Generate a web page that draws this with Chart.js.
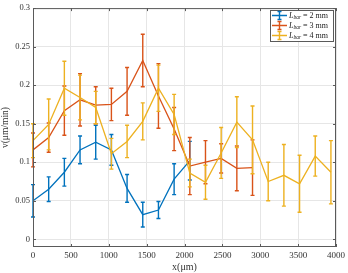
<!DOCTYPE html>
<html>
<head>
<meta charset="utf-8">
<script src="https://cdn.jsdelivr.net/npm/chart.js@4.4.1/dist/chart.umd.min.js"></script>
<style>
  html, body { margin: 0; padding: 0; background: #fff; }
  #wrap { width: 348px; height: 273px; }
</style>
</head>
<body>
<div id="wrap"><canvas id="chart"></canvas></div>
<script>
// positions along the channel (um)
const xValues = [0, 207, 414, 621, 828, 1035, 1242, 1449, 1656, 1863, 2070, 2277, 2484, 2691, 2898, 3105, 3312, 3519, 3726, 3933];

// velocity (um/min) and error bar half-widths
const v2mm   = [0.050, 0.065, 0.087, 0.116, 0.126, 0.116, 0.066, 0.032, 0.038, 0.078, 0.102];
const err2mm = [0.021, 0.016, 0.018, 0.018, 0.022, 0.020, 0.018, 0.016, 0.011, 0.020, 0.025];
const v3mm   = [0.116, 0.132, 0.167, 0.181, 0.174, 0.175, 0.192, 0.232, 0.186, 0.143, 0.095, 0.100, 0.105, 0.092, 0.093];
const err3mm = [0.022, 0.019, 0.032, 0.034, 0.024, 0.021, 0.031, 0.034, 0.042, 0.028, 0.037, 0.028, 0.019, 0.029, 0.036];
const v4mm   = [0.128, 0.149, 0.196, 0.184, 0.171, 0.111, 0.127, 0.153, 0.196, 0.162, 0.086, 0.074, 0.112, 0.152, 0.129, 0.075, 0.083, 0.072, 0.108, 0.087];
const err4mm = [0.022, 0.033, 0.035, 0.029, 0.021, 0.020, 0.021, 0.024, 0.030, 0.026, 0.018, 0.022, 0.033, 0.033, 0.044, 0.025, 0.040, 0.037, 0.026, 0.041];

const seriesLabels = ['2 mm', '3 mm', '4 mm'];
const xTicks = [0, 500, 1000, 1500, 2000, 2500, 3000, 3500, 4000];
const yTicks = [0, 0.05, 0.1, 0.15, 0.2, 0.25, 0.3];

const FONT = '"Liberation Serif", "DejaVu Serif", serif';
const AXIS_COLOR = '#5a5a5a';

const toPoints = vals => vals.map((v, i) => ({ x: xValues[i], y: v }));

const errorBars = {
    id: 'errorBars',
    afterDatasetDraw(chart, args) {
        const ds = chart.data.datasets[args.index];
        if (!ds.errors) return;
        const { ctx, scales: { x, y } } = chart;
        ctx.save();
        ctx.strokeStyle = ds.borderColor;
        ctx.lineWidth = 1.4;
        ds.data.forEach((p, i) => {
            const px = x.getPixelForValue(p.x);
            const top = y.getPixelForValue(p.y + ds.errors[i]);
            const bot = y.getPixelForValue(p.y - ds.errors[i]);
            ctx.beginPath();
            ctx.moveTo(px, top); ctx.lineTo(px, bot);
            ctx.moveTo(px - 2, top); ctx.lineTo(px + 2, top);
            ctx.moveTo(px - 2, bot); ctx.lineTo(px + 2, bot);
            ctx.stroke();
        });
        ctx.restore();
    }
};

// box around the axes with inward ticks, like matlab
const frame = {
    id: 'frame',
    afterDraw(chart) {
        const { ctx, chartArea: a, scales: { x, y } } = chart;
        ctx.save();
        ctx.strokeStyle = AXIS_COLOR;
        ctx.lineWidth = 1;
        ctx.strokeRect(a.left + 0.5, a.top + 0.5, a.right - a.left - 1, a.bottom - a.top - 1);
        ctx.beginPath();
        xTicks.forEach(t => {
            const px = Math.round(x.getPixelForValue(t)) + 0.5;
            ctx.moveTo(px, a.bottom); ctx.lineTo(px, a.bottom - 3);
            ctx.moveTo(px, a.top); ctx.lineTo(px, a.top + 3);
        });
        yTicks.forEach(t => {
            const py = Math.round(y.getPixelForValue(t)) + 0.5;
            ctx.moveTo(a.left, py); ctx.lineTo(a.left + 3, py);
            ctx.moveTo(a.right, py); ctx.lineTo(a.right - 3, py);
        });
        ctx.stroke();
        ctx.restore();
    }
};

const legendBox = {
    id: 'legendBox',
    afterDraw(chart) {
        const { ctx } = chart;
        const bx = 270, by = 10, bw = 63, bh = 31;
        ctx.save();
        ctx.fillStyle = '#fff';
        ctx.fillRect(bx, by, bw, bh);
        ctx.strokeStyle = AXIS_COLOR;
        ctx.lineWidth = 1;
        ctx.strokeRect(bx + 0.5, by + 0.5, bw, bh);
        chart.data.datasets.slice().sort((a, b) => a.legendIdx - b.legendIdx).forEach((ds, i) => {
            const cy = by + 5.5 + i * 10;
            ctx.strokeStyle = ds.borderColor;
            ctx.lineWidth = 1.4;
            ctx.beginPath();
            ctx.moveTo(bx + 2, cy); ctx.lineTo(bx + 17, cy);
            ctx.moveTo(bx + 9.5, cy - 4); ctx.lineTo(bx + 9.5, cy + 4);
            ctx.moveTo(bx + 7.5, cy - 4); ctx.lineTo(bx + 11.5, cy - 4);
            ctx.moveTo(bx + 7.5, cy + 4); ctx.lineTo(bx + 11.5, cy + 4);
            ctx.stroke();
            ctx.fillStyle = '#222';
            ctx.textBaseline = 'middle';
            let tx = bx + 19;
            ctx.font = 'italic 8px ' + FONT;
            ctx.fillText('L', tx, cy);
            tx += ctx.measureText('L').width;
            ctx.font = 'italic 5.5px ' + FONT;
            ctx.fillText('bar', tx, cy + 2.5);
            tx += ctx.measureText('bar').width + 2;
            ctx.font = '8px ' + FONT;
            ctx.fillText('= ' + seriesLabels[ds.legendIdx], tx, cy);
        });
        ctx.restore();
    }
};

new Chart(document.getElementById('chart'), {
    type: 'line',
    data: {
        datasets: [
            { label: 'L_bar = 2 mm', legendIdx: 0, data: toPoints(v2mm), errors: err2mm, borderColor: '#0072BD', order: 2 },
            { label: 'L_bar = 3 mm', legendIdx: 1, data: toPoints(v3mm), errors: err3mm, borderColor: '#D95319', order: 1 },
            { label: 'L_bar = 4 mm', legendIdx: 2, data: toPoints(v4mm), errors: err4mm, borderColor: '#EDB120', order: 0 }
        ].map(d => Object.assign(d, { borderWidth: 1.3, pointRadius: 0, tension: 0, fill: false }))
    },
    options: {
        responsive: true,
        maintainAspectRatio: false,
        animation: false,
        layout: { padding: { left: 0, right: 11, top: 6, bottom: 0 } },
        plugins: { legend: { display: false }, tooltip: { enabled: false } },
        scales: {
            x: {
                type: 'linear',
                min: 0,
                max: 4000,
                afterBuildTicks: s => { s.ticks = xTicks.map(v => ({ value: v })); },
                afterFit: s => { s.height = 26; },
                grid: { color: '#e6e6e6', drawTicks: false },
                border: { display: false },
                ticks: { color: '#333', padding: 3, maxRotation: 0, font: { family: FONT, size: 9 }, callback: v => String(v) },
                title: { display: true, text: 'x(μm)', color: '#333', padding: { top: 0, bottom: 0 }, font: { family: FONT, size: 10 } }
            },
            y: {
                min: -0.01,
                max: 0.3,
                afterBuildTicks: s => { s.ticks = yTicks.map(v => ({ value: v })); },
                afterFit: s => { s.width = 33; },
                grid: { color: '#e6e6e6', drawTicks: false },
                border: { display: false },
                ticks: { color: '#333', padding: 3, font: { family: FONT, size: 8.5 }, callback: v => String(v) },
                title: { display: true, text: 'v(μm/min)', color: '#333', padding: { top: 0, bottom: 0 }, font: { family: FONT, size: 9.5 } }
            }
        }
    },
    plugins: [errorBars, frame, legendBox]
});
</script>
</body>
</html>
